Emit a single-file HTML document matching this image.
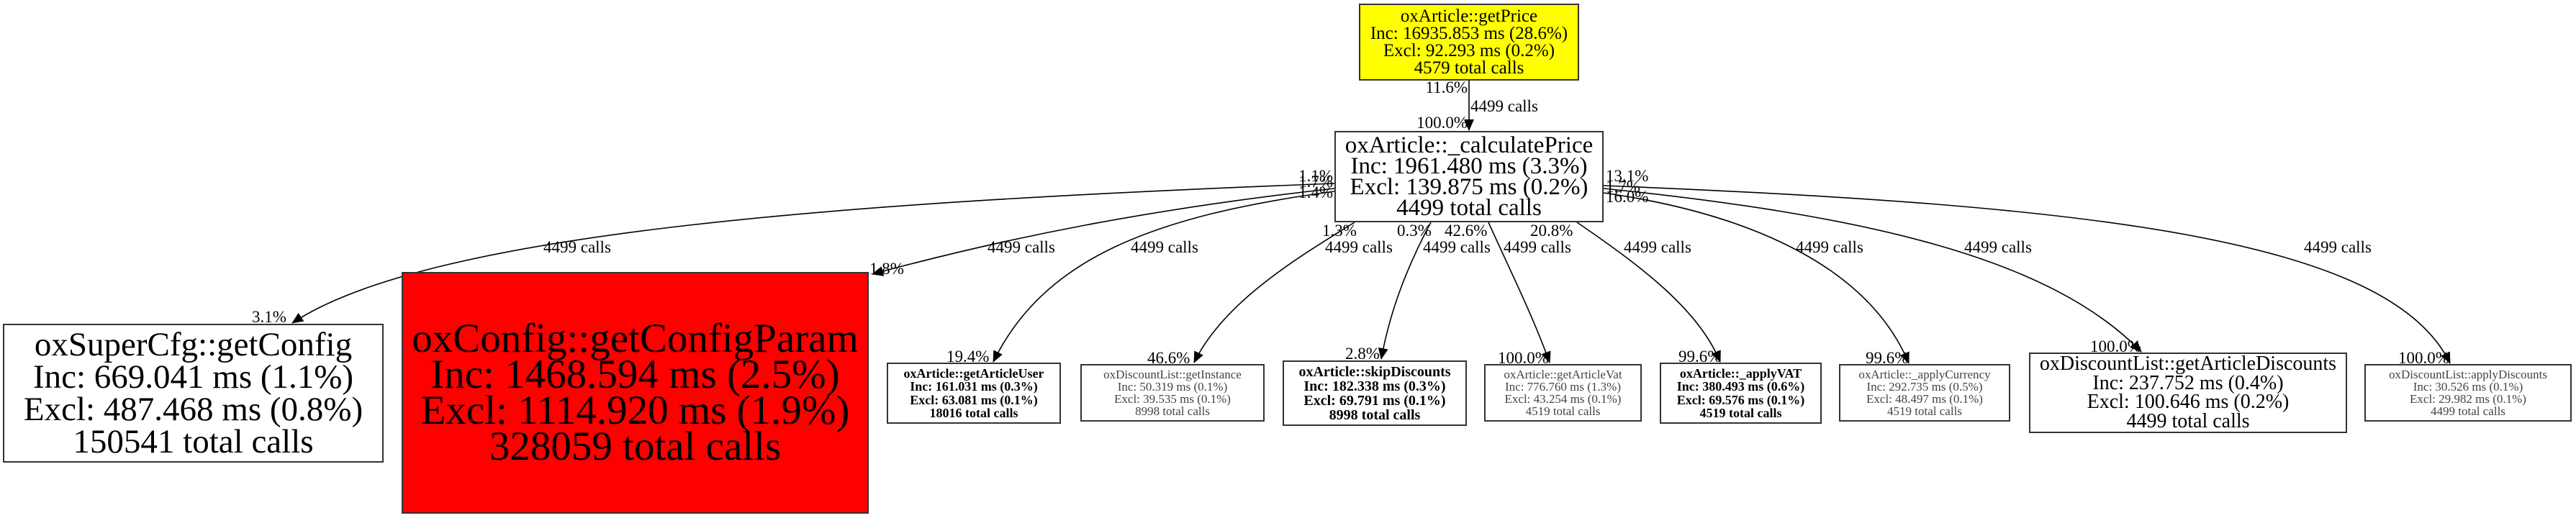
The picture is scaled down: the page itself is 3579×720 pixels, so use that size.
<!DOCTYPE html>
<html><head><meta charset="utf-8"><style>
body{margin:0;width:3579px;height:720px;background:#fff;position:relative;overflow:hidden;font-family:"Liberation Serif",serif;}
.n{position:absolute;box-sizing:border-box;border:2px solid #333;display:flex;flex-direction:column;justify-content:center;align-items:center;text-align:center;white-space:nowrap;background:#fff;color:#000;}
.l{position:absolute;font-size:23px;white-space:nowrap;line-height:1;}
.r{text-align:right;}
.g{color:#444;}
</style></head><body>
<svg width="3579" height="720" style="position:absolute;left:0;top:0">
<defs><marker id="b" markerWidth="16" markerHeight="14" refX="15" refY="7" orient="auto" markerUnits="userSpaceOnUse"><path d="M0,0 L16,7 L0,14 z" fill="#000"/></marker></defs>
<g fill="none" stroke="#000" stroke-width="1.6">
<path d="M2041,112 L2041,181" marker-end="url(#b)"/>
<path d="M1854,255 C1200,280 600,320 406,449" marker-end="url(#b)"/>
<path d="M1854,262 C1600,290 1400,330 1212,381" marker-end="url(#b)"/>
<path d="M1854,266 C1600,300 1450,360 1380,503" marker-end="url(#b)"/>
<path d="M1882,309 C1800,360 1700,420 1659,504" marker-end="url(#b)"/>
<path d="M1988,309 C1950,380 1930,440 1919,499" marker-end="url(#b)"/>
<path d="M2068,309 C2100,380 2130,440 2153,504" marker-end="url(#b)"/>
<path d="M2191,309 C2280,370 2360,430 2390,503" marker-end="url(#b)"/>
<path d="M2228,268 C2450,300 2600,380 2652,505" marker-end="url(#b)"/>
<path d="M2228,262 C2600,300 2850,360 2975,489" marker-end="url(#b)"/>
<path d="M2228,258 C2900,285 3320,330 3404,505" marker-end="url(#b)"/>
</g></svg>

<div class="n" style="left:1888px;top:5px;width:306px;height:107px;background:#ff0;font-size:25px;line-height:24px;">oxArticle::getPrice<br>Inc: 16935.853 ms (28.6%)<br>Excl: 92.293 ms (0.2%)<br>4579 total calls</div>
<div class="n" style="left:1854px;top:182px;width:374px;height:127px;font-size:33px;line-height:29px;">oxArticle::_calculatePrice<br>Inc: 1961.480 ms (3.3%)<br>Excl: 139.875 ms (0.2%)<br>4499 total calls</div>
<div class="n" style="left:4px;top:450px;width:529px;height:193px;font-size:47px;line-height:45px;">oxSuperCfg::getConfig<br>Inc: 669.041 ms (1.1%)<br>Excl: 487.468 ms (0.8%)<br>150541 total calls</div>
<div class="n" style="left:558px;top:378px;width:649px;height:336px;background:#f00;font-size:57px;line-height:50px;">oxConfig::getConfigParam<br>Inc: 1468.594 ms (2.5%)<br>Excl: 1114.920 ms (1.9%)<br>328059 total calls</div>
<div class="n" style="left:1232px;top:504px;width:242px;height:85px;font-size:18px;line-height:18.5px;font-weight:bold;">oxArticle::getArticleUser<br>Inc: 161.031 ms (0.3%)<br>Excl: 63.081 ms (0.1%)<br>18016 total calls</div>
<div class="n g" style="left:1501px;top:506px;width:256px;height:80px;font-size:17px;line-height:17px;">oxDiscountList::getInstance<br>Inc: 50.319 ms (0.1%)<br>Excl: 39.535 ms (0.1%)<br>8998 total calls</div>
<div class="n" style="left:1782px;top:501px;width:256px;height:91px;font-size:20px;line-height:20px;font-weight:bold;">oxArticle::skipDiscounts<br>Inc: 182.338 ms (0.3%)<br>Excl: 69.791 ms (0.1%)<br>8998 total calls</div>
<div class="n g" style="left:2062px;top:506px;width:219px;height:80px;font-size:17px;line-height:17px;">oxArticle::getArticleVat<br>Inc: 776.760 ms (1.3%)<br>Excl: 43.254 ms (0.1%)<br>4519 total calls</div>
<div class="n" style="left:2306px;top:504px;width:225px;height:85px;font-size:18px;line-height:18.5px;font-weight:bold;">oxArticle::_applyVAT<br>Inc: 380.493 ms (0.6%)<br>Excl: 69.576 ms (0.1%)<br>4519 total calls</div>
<div class="n g" style="left:2555px;top:506px;width:238px;height:80px;font-size:17px;line-height:17px;">oxArticle::_applyCurrency<br>Inc: 292.735 ms (0.5%)<br>Excl: 48.497 ms (0.1%)<br>4519 total calls</div>
<div class="n" style="left:2819px;top:490px;width:442px;height:112px;font-size:28px;line-height:26.5px;">oxDiscountList::getArticleDiscounts<br>Inc: 237.752 ms (0.4%)<br>Excl: 100.646 ms (0.2%)<br>4499 total calls</div>
<div class="n g" style="left:3285px;top:506px;width:288px;height:80px;font-size:17px;line-height:17px;">oxDiscountList::applyDiscounts<br>Inc: 30.526 ms (0.1%)<br>Excl: 29.982 ms (0.1%)<br>4499 total calls</div>

<div class="l r" style="right:1540px;top:110px;">11.6%</div>
<div class="l" style="left:2043px;top:136px;">4499 calls</div>
<div class="l r" style="right:1540px;top:159px;">100.0%</div>
<div class="l r" style="right:1727px;top:233px;">1.1%</div>
<div class="l r" style="right:1727px;top:241px;">1.7%</div>
<div class="l r" style="right:1727px;top:256px;">1.4%</div>
<div class="l" style="left:2231px;top:233px;">13.1%</div>
<div class="l" style="left:2231px;top:248px;">1.7%</div>
<div class="l" style="left:2231px;top:262px;">16.0%</div>
<div class="l" style="left:755px;top:332px;">4499 calls</div>
<div class="l" style="left:350px;top:429px;">3.1%</div>
<div class="l" style="left:1372px;top:332px;">4499 calls</div>
<div class="l" style="left:1208px;top:362px;">1.8%</div>
<div class="l" style="left:1571px;top:332px;">4499 calls</div>
<div class="l" style="left:1315px;top:484px;">19.4%</div>
<div class="l" style="left:1837px;top:309px;">1.3%</div>
<div class="l" style="left:1841px;top:332px;">4499 calls</div>
<div class="l" style="left:1594px;top:486px;">46.6%</div>
<div class="l" style="left:1941px;top:309px;">0.3%</div>
<div class="l" style="left:1977px;top:332px;">4499 calls</div>
<div class="l" style="left:1869px;top:480px;">2.8%</div>
<div class="l" style="left:2007px;top:309px;">42.6%</div>
<div class="l" style="left:2089px;top:332px;">4499 calls</div>
<div class="l" style="left:2081px;top:486px;">100.0%</div>
<div class="l" style="left:2126px;top:309px;">20.8%</div>
<div class="l" style="left:2256px;top:332px;">4499 calls</div>
<div class="l" style="left:2332px;top:484px;">99.6%</div>
<div class="l" style="left:2495px;top:332px;">4499 calls</div>
<div class="l" style="left:2592px;top:486px;">99.6%</div>
<div class="l" style="left:2729px;top:332px;">4499 calls</div>
<div class="l" style="left:2904px;top:470px;">100.0%</div>
<div class="l" style="left:3201px;top:332px;">4499 calls</div>
<div class="l" style="left:3332px;top:486px;">100.0%</div>
</body></html>
